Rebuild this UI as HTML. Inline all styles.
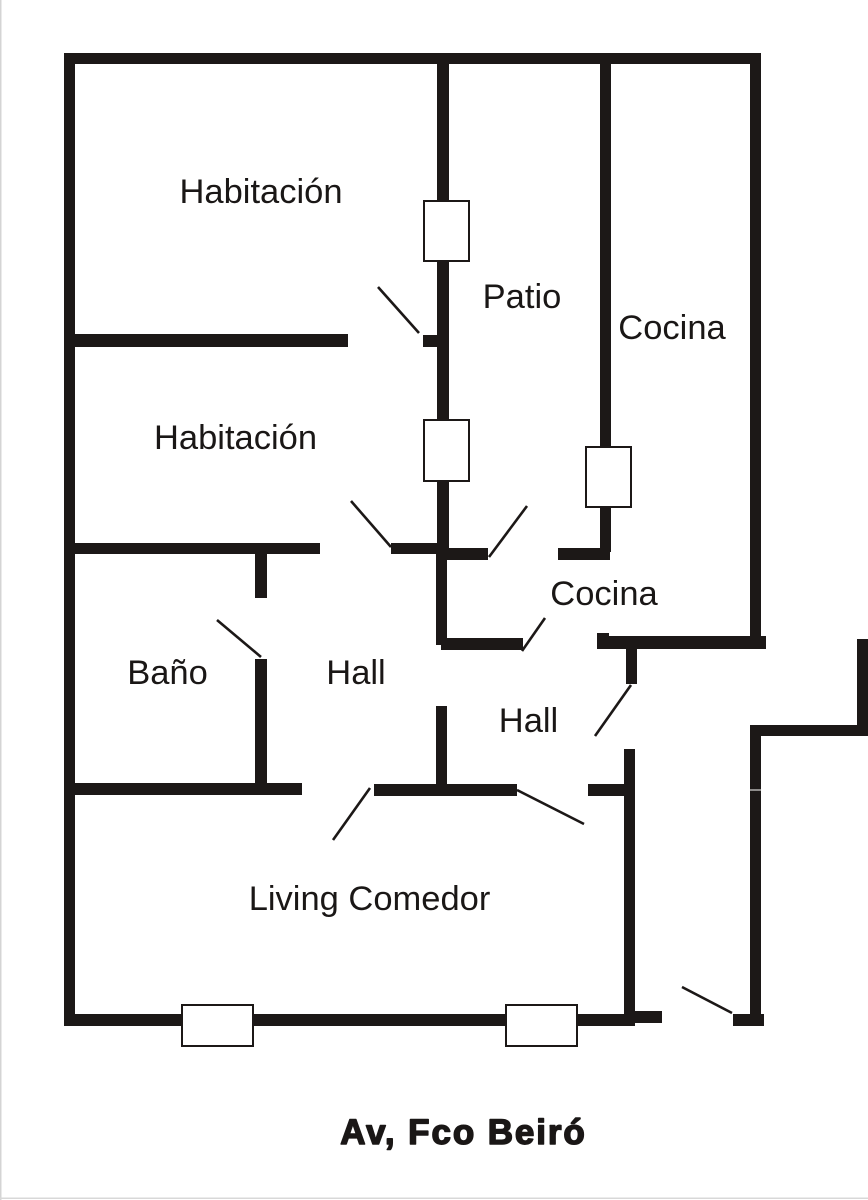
<!DOCTYPE html>
<html>
<head>
<meta charset="utf-8">
<style>
  html, body { margin: 0; padding: 0; background: #fff; }
  body { width: 868px; height: 1200px; overflow: hidden; }
  svg { display: block; }
  .t { font-family: "Liberation Sans", Arial, sans-serif; font-size: 34.5px; fill: #1a1716; }
  .title { font-family: "Liberation Sans", Arial, sans-serif; font-weight: bold; font-size: 35px; fill: #1a1716; letter-spacing: 1.9px; stroke: #1a1716; stroke-width: 1.5px; stroke-linejoin: round; }
</style>
</head>
<body>
<svg width="868" height="1200" viewBox="0 0 868 1200" xmlns="http://www.w3.org/2000/svg">
  <rect x="0" y="0" width="868" height="1200" fill="#fff"/>
  <!-- faint page edges -->
  <rect x="0" y="0" width="1.5" height="1200" fill="#d4d4d4"/>
  <rect x="0" y="1197.5" width="868" height="1.5" fill="#d8d8d8"/>

  <g fill="#1c1817">
    <!-- outer top & left -->
    <rect x="64" y="53" width="697" height="11"/>
    <rect x="64" y="53" width="11" height="973"/>
    <!-- vertical wall A -->
    <rect x="437" y="53" width="12" height="501"/>
    <rect x="436" y="548" width="11" height="97"/>
    <!-- middle wall B -->
    <rect x="600" y="53" width="11" height="499"/>
    <!-- right wall -->
    <rect x="750" y="53" width="11" height="596"/>
    <!-- habitacion divider -->
    <rect x="64" y="334" width="284" height="13"/>
    <rect x="423" y="335" width="14" height="12"/>
    <!-- y 543 walls -->
    <rect x="64" y="543" width="256" height="11"/>
    <rect x="391" y="543" width="47" height="11"/>
    <rect x="438" y="548" width="50" height="12"/>
    <rect x="558" y="548" width="52" height="12"/>
    <!-- inner cocina bottom -->
    <rect x="441" y="638" width="82" height="12"/>
    <!-- right horizontal -->
    <rect x="597" y="636" width="169" height="13"/>
    <rect x="597" y="633" width="12" height="5"/>
    <rect x="626" y="649" width="11" height="35"/>
    <!-- bathroom -->
    <rect x="255" y="554" width="12" height="44"/>
    <rect x="255" y="659" width="12" height="125"/>
    <rect x="64" y="783" width="238" height="12"/>
    <!-- living top -->
    <rect x="374" y="784" width="143" height="12"/>
    <rect x="436" y="706" width="11" height="78"/>
    <rect x="588" y="784" width="45" height="12"/>
    <rect x="624" y="749" width="11" height="277"/>
    <!-- bottom wall -->
    <rect x="64" y="1014" width="571" height="12"/>
    <rect x="635" y="1011" width="27" height="12"/>
    <rect x="733" y="1014" width="31" height="12"/>
    <!-- right outer structure -->
    <rect x="750" y="725" width="11" height="301"/>
    <rect x="750" y="725" width="118" height="11"/>
    <rect x="857" y="639" width="11" height="97"/>
  </g>
  <rect x="749" y="789.5" width="13" height="1" fill="#fff"/>

  <!-- windows -->
  <g fill="#fff" stroke="#1c1817" stroke-width="2">
    <rect x="424" y="201" width="45" height="60"/>
    <rect x="424" y="420" width="45" height="61"/>
    <rect x="586" y="447" width="45" height="60"/>
    <rect x="182" y="1005" width="71" height="41"/>
    <rect x="506" y="1005" width="71" height="41"/>
  </g>

  <!-- door swings -->
  <g stroke="#1c1817" stroke-width="2.6" stroke-linecap="butt">
    <line x1="378" y1="287" x2="419" y2="333"/>
    <line x1="351" y1="501" x2="391" y2="547"/>
    <line x1="489" y1="557" x2="527" y2="506"/>
    <line x1="522" y1="651" x2="545" y2="618"/>
    <line x1="217" y1="620" x2="261" y2="657"/>
    <line x1="333" y1="840" x2="370" y2="788"/>
    <line x1="631" y1="685" x2="595" y2="736"/>
    <line x1="517" y1="790" x2="584" y2="824"/>
    <line x1="682" y1="987" x2="732" y2="1013"/>
  </g>

  <!-- labels -->
  <text class="t" x="261" y="203" text-anchor="middle">Habitación</text>
  <text class="t" x="522" y="308" text-anchor="middle">Patio</text>
  <text class="t" x="672" y="339" text-anchor="middle">Cocina</text>
  <text class="t" x="235.5" y="449" text-anchor="middle">Habitación</text>
  <text class="t" x="604" y="605" text-anchor="middle">Cocina</text>
  <text class="t" x="167.5" y="684" text-anchor="middle">Baño</text>
  <text class="t" x="356" y="684" text-anchor="middle">Hall</text>
  <text class="t" x="528.5" y="732" text-anchor="middle">Hall</text>
  <text class="t" x="369.5" y="910" text-anchor="middle">Living Comedor</text>
  <text class="title" x="463.5" y="1144" text-anchor="middle">Av, Fco Beiró</text>
</svg>
</body>
</html>
